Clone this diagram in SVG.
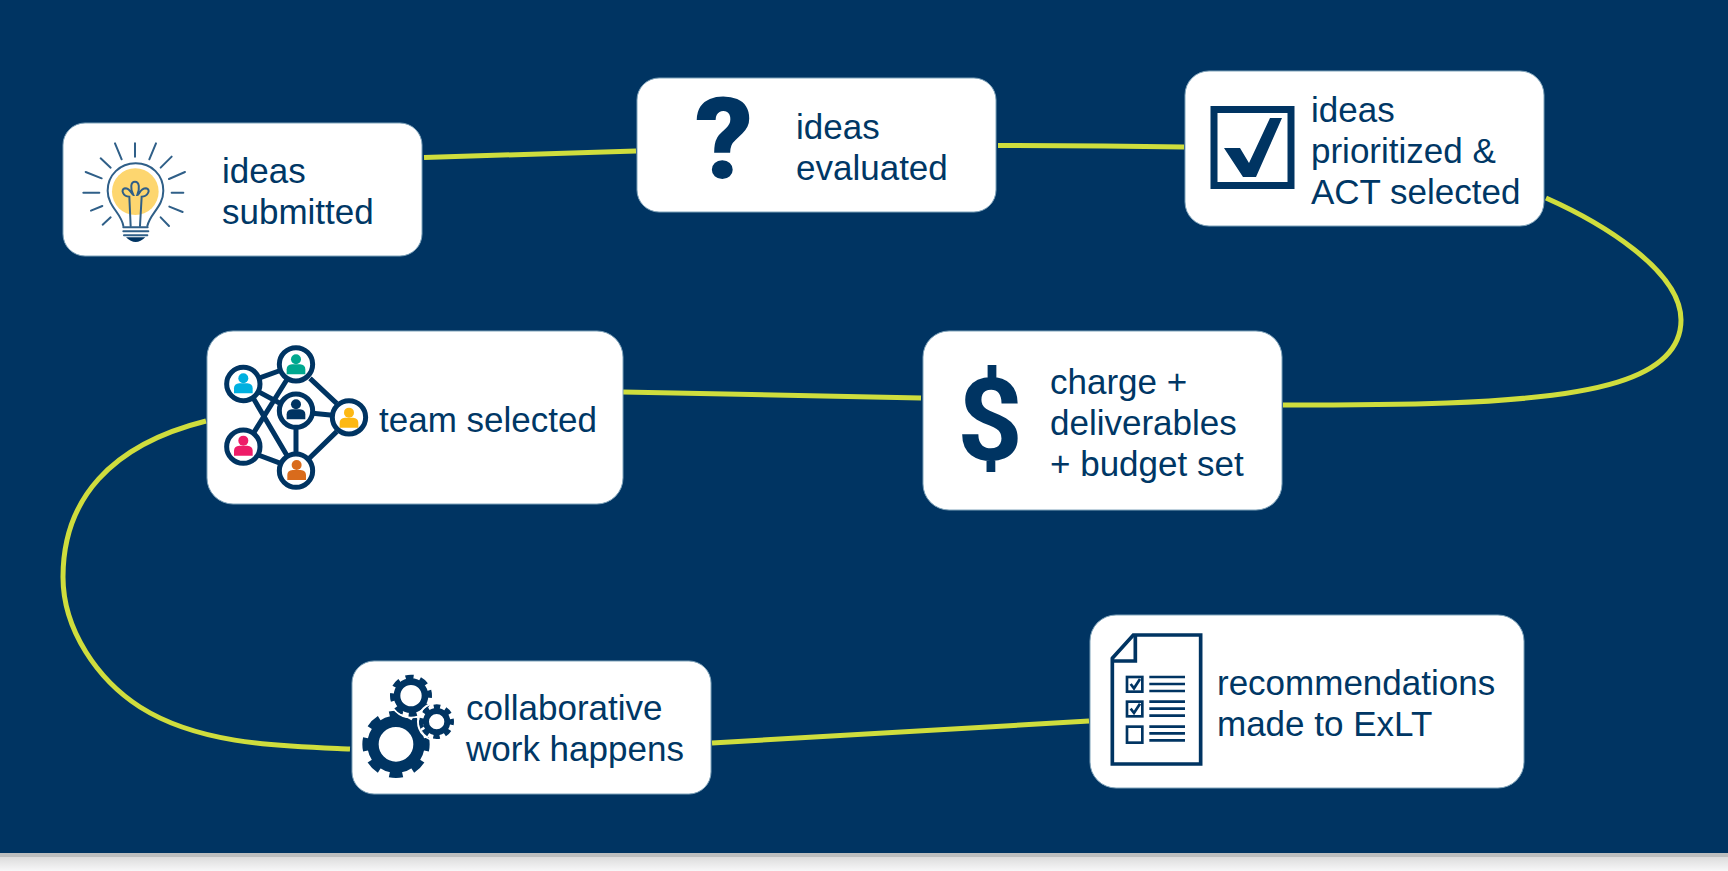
<svg xmlns="http://www.w3.org/2000/svg" width="1728" height="871" viewBox="0 0 1728 871">
<style>
.box{fill:#fff;stroke:#7fa3ba;stroke-width:1}
.lbl{font-family:"Liberation Sans",Arial,sans-serif;font-size:35px;fill:#003765}
.con{fill:none;stroke:#cfdd3d;stroke-width:5}
.nv{fill:none;stroke:#003462}
.sol{fill:#003462}
</style>
<defs>
<linearGradient id="fade" x1="0" y1="0" x2="0" y2="1"><stop offset="0" stop-color="#dcdcdc"/><stop offset="1" stop-color="#f7f7f8"/></linearGradient>
<g id="person"><circle cx="0" cy="-15" r="15"/><path d="M-28 30V15Q-28 2-12 0H12Q28 2 28 15V30Z"/></g>
</defs>
<rect width="1728" height="853" fill="#003462"/>
<rect y="853" width="1728" height="4" fill="#bcbebe"/>
<rect y="857" width="1728" height="14" fill="url(#fade)"/>

<g id="connectors">
<path class="con" d="M424 157.500L636 151"/>
<path class="con" d="M998 145.500Q1100 145.500 1184 147"/>
<path class="con" d="M1546 198C1600 222 1681 270 1681 320C1681 380 1590 398 1447 403C1390 405 1340 405 1283 405"/>
<path class="con" d="M921 398L623 392"/>
<path class="con" d="M206 421C110 445 63 500 63 577C63 630 98 680 140 707C200 745 280 746 350 749"/>
<path class="con" d="M712 743L1089 721"/>
</g>

<g id="node-ideas-submitted">
<rect class="box" x="63" y="123" width="359" height="133" rx="22"/>
<g transform="translate(40 100) scale(.3333)">
<circle cx="286" cy="275" r="70" fill="#fdd66f"/>
<g fill="none" stroke="#2f5f88" stroke-width="6" stroke-linecap="round">
<path d="M225 130L245 178M285 130V170M348 130L328 178M182 175L212 203M395 170L362 203M137 216L185 235M435 216L387 237M130 278H178M395 278H430M153 332L187 318M388 320L428 336M188 374L212 352M362 352L387 378"/>
<path d="M250 378C245 340 203 320 203 272C203 225 240 190 287 190C335 190 370 225 370 272C370 320 330 340 322 378"/>
<path d="M272 378L268 290C250 290 240 268 255 265C272 265 275 285 280 285C270 265 272 245 285 245C298 245 300 265 292 285C298 285 300 265 318 265C335 268 322 290 305 290L300 378"/>
<path d="M250 382H323M250 394H325M252 406H322"/>
</g>
<path class="sol" d="M258 412H316Q302 426 287 426Q272 426 258 412Z"/>
</g>
<text class="lbl" x="222" y="183">ideas</text>
<text class="lbl" x="222" y="224">submitted</text>
</g>

<g id="node-ideas-evaluated">
<rect class="box" x="637" y="78" width="359" height="134" rx="22"/>
<text x="695" y="178" font-family="Roboto,sans-serif" font-weight="900" font-size="114" fill="#003462">?</text>
<text class="lbl" x="796" y="139">ideas</text>
<text class="lbl" x="796" y="180">evaluated</text>
</g>

<g id="node-ideas-prioritized">
<rect class="box" x="1185" y="71" width="359" height="155" rx="24"/>
<rect class="nv" x="1214" y="109.500" width="77" height="76" stroke-width="7"/>
<polygon class="sol" points="1224,148 1240,148 1249,163 1270,118 1282,118 1256,177 1243,177"/>
<text class="lbl" x="1311" y="122">ideas</text>
<text class="lbl" x="1311" y="163">prioritized &amp;</text>
<text class="lbl" x="1311" y="203.500">ACT selected</text>
</g>

<g id="node-charge">
<rect class="box" x="923" y="331" width="359" height="179" rx="26"/>
<text x="957" y="460" font-family="Roboto,sans-serif" font-weight="700" font-size="115" fill="#003462">$</text>
<text class="lbl" x="1050" y="394">charge +</text>
<text class="lbl" x="1050" y="435">deliverables</text>
<text class="lbl" x="1050" y="476">+ budget set</text>
</g>

<g id="node-team">
<rect class="box" x="207" y="331" width="416" height="173" rx="26"/>
<g transform="translate(190 320) scale(.3333)">
<g class="nv" stroke-width="15">
<path d="M205 175L275 150M290 180L190 340M190 235L290 405M205 215L270 250M360 175L440 250M368 280L428 286M318 322V402M440 335L358 415M205 405L272 430"/>
<circle cx="160" cy="192" r="50" fill="#fff"/><circle cx="318" cy="133" r="50" fill="#fff"/><circle cx="318" cy="272" r="50" fill="#fff"/><circle cx="477" cy="292" r="50" fill="#fff"/><circle cx="160" cy="380" r="50" fill="#fff"/><circle cx="318" cy="452" r="50" fill="#fff"/>
</g>
<use href="#person" x="160" y="190" fill="#00b0e0"/>
<use href="#person" x="318" y="133" fill="#00a88f"/>
<use href="#person" x="318" y="268" fill="#003462"/>
<use href="#person" x="477" y="293" fill="#fdb813"/>
<use href="#person" x="160" y="377" fill="#ee1c68"/>
<use href="#person" x="320" y="450" fill="#d96b1c"/>
</g>
<text class="lbl" x="379" y="431.500">team selected</text>
</g>

<g id="node-collab">
<rect class="box" x="352" y="661" width="359" height="133" rx="22"/>
<g transform="translate(340 650) scale(.3333)" fill="none" stroke="#003462">
<circle cx="168" cy="283" r="69" stroke-width="34"/>
<circle cx="168" cy="283" r="90" stroke-width="22" pathLength="16" stroke-dasharray="1.1 .9" stroke-dashoffset=".55"/>
<circle cx="213" cy="137" r="65" stroke="#fff" stroke-width="6"/>
<circle cx="213" cy="137" r="42" stroke-width="20"/>
<circle cx="213" cy="137" r="55" stroke-width="16" pathLength="16" stroke-dasharray="1.1 .9" stroke-dashoffset=".8"/>
<circle cx="290" cy="215" r="56" stroke="#fff" stroke-width="6"/>
<circle cx="290" cy="215" r="32" stroke-width="18"/>
<circle cx="290" cy="215" r="45" stroke-width="14" pathLength="16" stroke-dasharray="1.1 .9" stroke-dashoffset=".55"/>
</g>
<text class="lbl" x="466" y="720">collaborative</text>
<text class="lbl" x="466" y="761">work happens</text>
</g>

<g id="node-recommendations">
<rect class="box" x="1090" y="615" width="434" height="173" rx="26"/>
<g transform="translate(1080 610) scale(.3333)">
<g class="nv" stroke-width="11">
<path d="M97 145L160 75H362V462H97Z"/>
<path d="M166 75V153H97"/>
</g>
<g class="nv" stroke-width="8">
<path d="M208 201H315M208 222H315M208 243H315M208 275H315M208 296H315M208 317H315M208 350H315M208 370H315M208 391H315"/>
<rect x="141" y="201" width="46" height="44"/>
<rect x="141" y="275" width="46" height="44"/>
<rect x="141" y="350" width="46" height="48"/>
<path d="M152 222L162 235L180 207M152 296L162 309L180 281"/>
</g>
</g>
<text class="lbl" x="1217" y="694.500">recommendations</text>
<text class="lbl" x="1217" y="736">made to ExLT</text>
</g>
</svg>
